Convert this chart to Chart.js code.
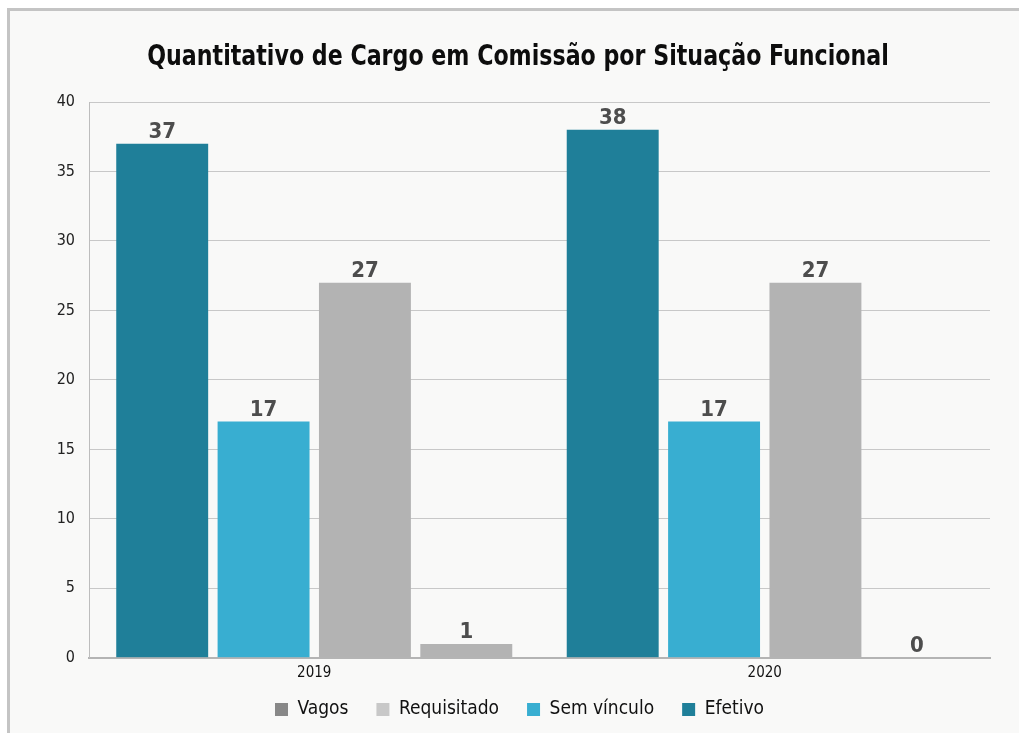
<!DOCTYPE html>
<html>
<head>
<meta charset="utf-8">
<script src="https://cdn.jsdelivr.net/npm/chart.js@4.4.1/dist/chart.umd.min.js"></script>
<style>
  html, body { margin: 0; padding: 0; background: #ffffff; }
  #frame {
    position: absolute; left: 7px; top: 8px; width: 1012px; height: 725px;
    box-sizing: border-box; border-left: 3px solid #c4c4c4; border-top: 3px solid #c4c4c4;
    background: #f9f9f8;
  }
  #wrap { position: absolute; left: 0; top: 0; width: 1009px; height: 722px; }
</style>
</head>
<body>
<div id="frame"><div id="wrap"><canvas id="c"></canvas></div></div>
<script>
const categories = ['2019', '2020'];
const seriesNames = ['Efetivo', 'Sem vínculo', 'Requisitado', 'Vagos'];
const efetivo = [37, 38];
const semVinculo = [17, 17];
const requisitado = [27, 27];
const vagos = [1, 0];
const yTicks = [0, 5, 10, 15, 20, 25, 30, 35, 40];
const titleText = 'Quantitativo de Cargo em Comissão por Situação Funcional';

const barColors = ['#1f7f99', '#38aed1', '#b3b3b3', '#b3b3b3'];
const legendColors = ['#1f7f99', '#38aed1', '#c8c8c8', '#888888'];
const FONT = '"DejaVu Sans Condensed", "Liberation Sans Narrow", "Noto Sans", sans-serif';

const valueLabels = {
  id: 'valueLabels',
  afterDatasetsDraw(chart) {
    const ctx = chart.ctx;
    ctx.save();
    ctx.font = 'bold 22px ' + FONT;
    ctx.fillStyle = '#4d4d4d';
    ctx.textAlign = 'center';
    ctx.textBaseline = 'alphabetic';
    chart.data.datasets.forEach((ds, i) => {
      const meta = chart.getDatasetMeta(i);
      meta.data.forEach((bar, j) => {
        ctx.fillText(String(ds.data[j]), bar.x, bar.y - 6);
      });
    });
    ctx.restore();
  }
};

const condensedTitle = {
  id: 'condensedTitle',
  afterDraw(chart) {
    const ctx = chart.ctx;
    ctx.save();
    ctx.font = 'bold 29px ' + FONT;
    ctx.fillStyle = '#0d0d0d';
    ctx.textAlign = 'center';
    ctx.textBaseline = 'alphabetic';
    ctx.translate(508, 54);
    ctx.scale(0.849, 1);
    ctx.fillText(titleText, 0, 0);
    ctx.restore();
  }
};

const seriesData = [efetivo, semVinculo, requisitado, vagos];

new Chart(document.getElementById('c'), {
  type: 'bar',
  data: {
    labels: categories,
    datasets: seriesNames.map((name, i) => ({
      label: name,
      data: seriesData[i],
      backgroundColor: barColors[i],
      borderWidth: 0,
      categoryPercentage: 0.9,
      barPercentage: 0.907
    }))
  },
  plugins: [valueLabels, condensedTitle],
  options: {
    responsive: true,
    maintainAspectRatio: false,
    animation: false,
    layout: { padding: { left: 39, right: 29, top: 91, bottom: 4 } },
    plugins: {
      title: { display: false },
      legend: {
        position: 'bottom',
        reverse: true,
        labels: {
          color: '#111111',
          font: { family: FONT, size: 19 },
          boxWidth: 13,
          boxHeight: 13,
          padding: 28,
          generateLabels(chart) {
            return chart.data.datasets.map((ds, i) => ({
              text: ds.label,
              fillStyle: legendColors[i],
              strokeStyle: legendColors[i],
              lineWidth: 0,
              hidden: false,
              datasetIndex: i,
              fontColor: '#111111'
            }));
          }
        }
      },
      tooltip: { enabled: false }
    },
    scales: {
      x: {
        afterFit(scale) {
          scale.height = 14.2;
          scale._computeLabelArea = () => undefined;
        },
        grid: { display: false, drawTicks: false },
        border: { display: true, color: '#b4b4b4', width: 2 },
        ticks: { color: '#111111', font: { family: FONT, size: 15 }, padding: 6 }
      },
      y: {
        min: 0,
        max: 40,
        afterBuildTicks(scale) { scale.ticks = yTicks.map(v => ({ value: v })); },
        afterFit(scale) { scale.width = 40; },
        grid: { color: '#c8c8c8', lineWidth: 1, drawTicks: false },
        border: { display: true, color: '#bdbdbd', width: 1 },
        ticks: { color: '#222222', font: { family: FONT, size: 16 }, padding: 14 }
      }
    }
  }
});
</script>
</body>
</html>
